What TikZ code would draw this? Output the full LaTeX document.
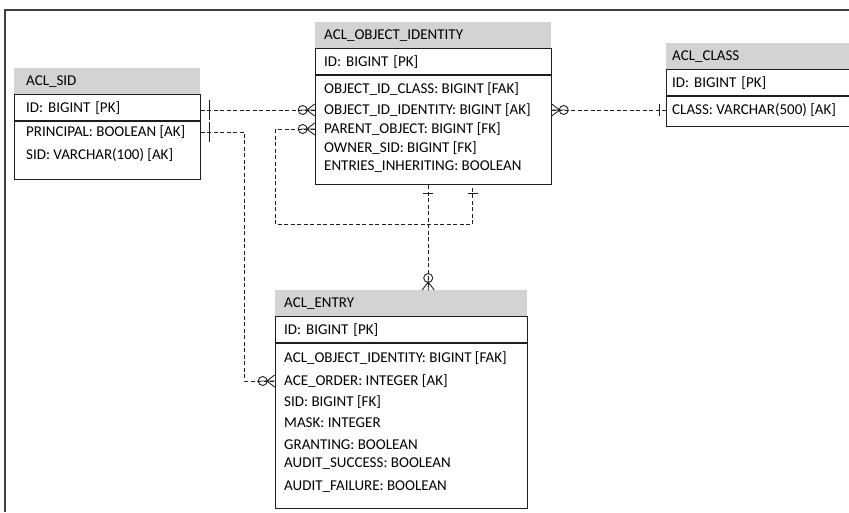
\documentclass[tikz,border=0pt]{standalone}
\usepackage{fontspec}
\setmainfont{Carlito}
\usepackage{tikz}
\usetikzlibrary{positioning,calc}
\definecolor{hdrgray}{HTML}{D3D3D3}
\definecolor{ink}{HTML}{1E1E1E}
\newcommand\tblfont{\fontsize{15}{18}\selectfont}
\tikzset{
  tblhead/.style={fill=hdrgray, anchor=north west, minimum height=26pt, inner xsep=9pt, inner ysep=0pt, align=left, font=\tblfont, text=black},
  keyrow/.style={draw=ink, line width=1pt, minimum height=26pt, inner xsep=9pt, inner ysep=0pt, align=left, font=\tblfont, text=black},
  attrbox/.style={draw=ink, line width=1pt, inner sep=0pt},
  field/.style={anchor=west, inner sep=0pt, font=\tblfont, text=black},
  divider/.style={draw=ink, line width=1.8pt},
  rel/.style={draw=ink, line width=0.9pt, dash pattern=on 4pt off 2.5pt},
  frame/.style={draw=ink!85, line width=1.6pt},
  pics/zeromany/.style={code={
    \draw[ink, line width=0.9pt] (-14,0) -- (0,0) (-8,0) -- (0,-6) (-8,0) -- (0,6);
    \draw[ink, line width=0.9pt] (-12,0) circle (4.5pt);}},
  pics/onebar/.style={code={\draw[ink, line width=0.9pt] (0,-#1) -- (0,#1);}}
}

\begin{document}
\begin{tikzpicture}[x=1pt,y=-1pt]
  \useasboundingbox (0,0) rectangle (849,512);
  \clip (0,0) rectangle (849,512);
  \draw[frame] (5,512) -- (5,10) -- (849,10);

  % ACL_SID
  \node[tblhead, inner xsep=12pt, text width=162pt, minimum height=26pt] (sid) at (14,68) {ACL\_SID};
  \node[keyrow, inner xsep=12pt, text width=162pt, below=0pt of sid] (sid-pk) {ID: BIGINT [PK]};
  \node[attrbox, minimum width=186pt, minimum height=58pt, below=0pt of sid-pk] (sid-at) {};
  \node[field] (sid-principal) at (26,132) {PRINCIPAL: BOOLEAN [AK]};
  \node[field] (sid-sid) at (26,155) {SID: VARCHAR(100) [AK]};
  \draw[divider] (sid-pk.south west) -- (sid-pk.south east);

  % ACL_OBJECT_IDENTITY
  \node[tblhead, text width=218pt] (oid) at (315,22) {ACL\_OBJECT\_IDENTITY};
  \node[keyrow, text width=218pt, below=0pt of oid] (oid-pk) {ID: BIGINT [PK]};
  \node[attrbox, minimum width=236pt, minimum height=109pt, below=0pt of oid-pk] (oid-at) {};
  \node[field] (oid-class) at (324,89) {OBJECT\_ID\_CLASS: BIGINT [FAK]};
  \node[field] (oid-ident) at (324,110) {OBJECT\_ID\_IDENTITY: BIGINT [AK]};
  \node[field] (oid-parent) at (324,129) {PARENT\_OBJECT: BIGINT [FK]};
  \node[field] (oid-owner) at (324,148) {OWNER\_SID: BIGINT [FK]};
  \node[field] (oid-inherit) at (324,167) {ENTRIES\_INHERITING: BOOLEAN};
  \draw[divider] (oid-pk.south west) -- (oid-pk.south east);

  % ACL_CLASS
  \node[tblhead, inner xsep=6pt, text width=208pt] (cls) at (666,43) {ACL\_CLASS};
  \node[keyrow, inner xsep=6pt, text width=208pt, below=0pt of cls] (cls-pk) {ID: BIGINT [PK]};
  \node[attrbox, minimum width=220pt, minimum height=30pt, below=0pt of cls-pk] (cls-at) {};
  \node[field] (cls-class) at (672,110) {CLASS: VARCHAR(500) [AK]};
  \draw[divider] (cls-pk.south west) -- (cls-pk.south east);

  % ACL_ENTRY
  \node[tblhead, text width=234pt] (entry) at (275,290) {ACL\_ENTRY};
  \node[keyrow, text width=234pt, below=0pt of entry] (entry-pk) {ID: BIGINT [PK]};
  \node[attrbox, minimum width=252pt, minimum height=165pt, below=0pt of entry-pk] (entry-at) {};
  \node[field] (entry-oid) at (284,358) {ACL\_OBJECT\_IDENTITY: BIGINT [FAK]};
  \node[field] (entry-order) at (284,381) {ACE\_ORDER: INTEGER [AK]};
  \node[field] (entry-sid) at (284,402) {SID: BIGINT [FK]};
  \node[field] (entry-mask) at (284,423) {MASK: INTEGER};
  \node[field] (entry-grant) at (284,445) {GRANTING: BOOLEAN};
  \node[field] (entry-success) at (284,464) {AUDIT\_SUCCESS: BOOLEAN};
  \node[field] (entry-failure) at (284,487) {AUDIT\_FAILURE: BOOLEAN};
  \draw[divider] (entry-pk.south west) -- (entry-pk.south east);

  % relations
  \draw[rel] (oid-ident -| sid-pk.east) -- (oid-ident -| oid-at.west);
  \pic at ([xshift=9pt]oid-ident -| sid-pk.east) {onebar=10};
  \pic at (oid-ident -| oid-at.west) {zeromany};

  \draw[rel] (sid-principal -| sid-at.east) -| ([xshift=-30pt]entry-order -| entry-at.west) -- (entry-order -| entry-at.west);
  \pic at ([xshift=9pt]sid-principal -| sid-at.east) {onebar=10};
  \pic at (entry-order -| entry-at.west) {zeromany};

  \draw[rel] (oid-parent -| oid-at.west) -- ++(-39,0) |- ([xshift=-79pt,yshift=-39pt]oid-at.south east) -- ([xshift=-79pt]oid-at.south east);
  \pic[rotate=90] at ([xshift=-79pt,yshift=-8pt]oid-at.south east) {onebar=5};
  \pic at (oid-parent -| oid-at.west) {zeromany};

  \draw[rel] ([xshift=-5pt]oid-at.south) -- ([xshift=-5pt]oid-at.south |- entry.north);
  \pic[rotate=90] at ([xshift=-5pt,yshift=-8pt]oid-at.south) {onebar=5};
  \pic[rotate=-90] at ([xshift=-5pt]oid-at.south |- entry.north) {zeromany};

  \draw[rel] (cls-class -| oid-at.east) -- (cls-class -| cls-at.west);
  \pic[rotate=180] at (cls-class -| oid-at.east) {zeromany};
  \pic at ([xshift=-6pt]cls-class -| cls-at.west) {onebar=6};
\end{tikzpicture}
\end{document}
